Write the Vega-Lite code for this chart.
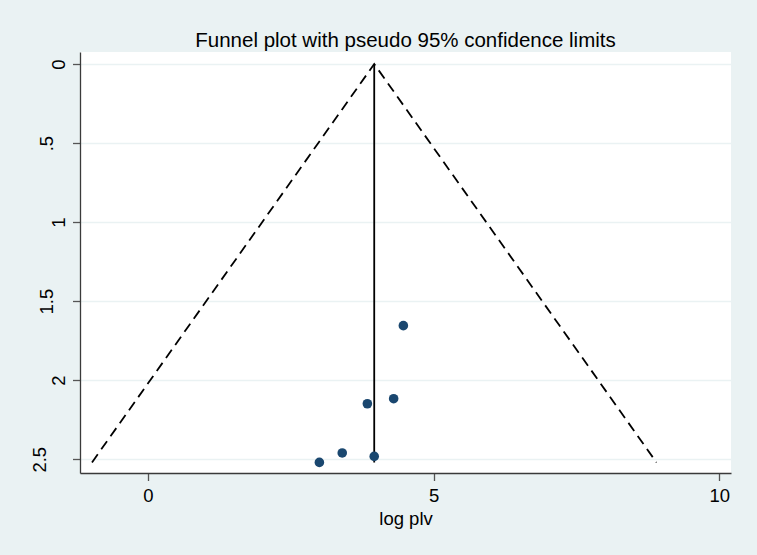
{
  "$schema": "https://vega.github.io/schema/vega-lite/v6.json",
  "autosize": {"type": "none"},
  "padding": {"left": 80, "top": 52, "right": 26, "bottom": 82},
  "width": 651,
  "height": 421,
  "background": "#eaf2f3",
  "title": {"text": "Funnel plot with pseudo 95% confidence limits", "font": "Liberation Sans", "fontSize": 20.5, "fontWeight": "normal", "color": "#000000", "offset": 1, "anchor": "middle"},
  "config": {
    "view": {"fill": "#ffffff", "stroke": null},
    "axis": {"labelFont": "Liberation Sans", "titleFont": "Liberation Sans", "labelFontSize": 18.5, "titleFontSize": 18.5, "titleFontWeight": "normal", "labelColor": "#000000", "titleColor": "#000000", "domainColor": "#3a3a3a", "domainWidth": 1.3, "tickColor": "#555555", "tickWidth": 1.3, "tickSize": 7.5}
  },
  "datasets": {
    "funnel": [
      {"logplv": -0.98, "se": 2.52},
      {"logplv": 3.96, "se": 0},
      {"logplv": 8.9, "se": 2.52}
    ],
    "center": [
      {"logplv": 3.96, "se_top": 0, "se_bottom": 2.52}
    ],
    "studies": [
      {"logplv": 4.47, "se": 1.655},
      {"logplv": 4.3, "se": 2.117},
      {"logplv": 3.84, "se": 2.149},
      {"logplv": 3.4, "se": 2.46},
      {"logplv": 3.96, "se": 2.482},
      {"logplv": 3.0, "se": 2.52}
    ]
  },
  "layer": [
    {
      "data": {"name": "funnel"},
      "mark": {"type": "line", "color": "#000000", "strokeWidth": 1.8, "strokeDash": [10, 6]},
      "encoding": {
        "x": {"field": "logplv", "type": "quantitative", "scale": {"domain": [-1.19, 10.205], "nice": false, "zero": false},
          "axis": {"values": [0, 5, 10], "format": "~g", "title": "log plv", "grid": false, "labelPadding": 6, "titlePadding": 4, "labelFlush": false}},
        "y": {"field": "se", "type": "quantitative", "scale": {"domain": [-0.076, 2.587], "nice": false, "zero": false, "reverse": true},
          "axis": {"values": [0, 0.5, 1, 1.5, 2, 2.5], "title": null, "grid": true, "gridColor": "#eaf2f3", "gridWidth": 1.5,
            "labelAngle": 270, "labelAlign": "center", "labelBaseline": "alphabetic", "labelFlush": false,
            "labelExpr": "datum.value == 0.5 ? '.5' : format(datum.value, '~g')",
            "labelPadding": {"condition": [{"test": "datum.value == 2.5", "value": 27}, {"test": "datum.value % 1 != 0", "value": 20}], "value": 8}}}
      }
    },
    {
      "data": {"name": "center"},
      "mark": {"type": "rule", "color": "#000000", "strokeWidth": 1.8},
      "encoding": {
        "x": {"field": "logplv", "type": "quantitative"},
        "y": {"field": "se_top", "type": "quantitative"},
        "y2": {"field": "se_bottom"}
      }
    },
    {
      "data": {"name": "studies"},
      "mark": {"type": "point", "filled": true, "color": "#1a476f", "opacity": 1, "size": 92},
      "encoding": {
        "x": {"field": "logplv", "type": "quantitative"},
        "y": {"field": "se", "type": "quantitative"}
      }
    }
  ]
}
